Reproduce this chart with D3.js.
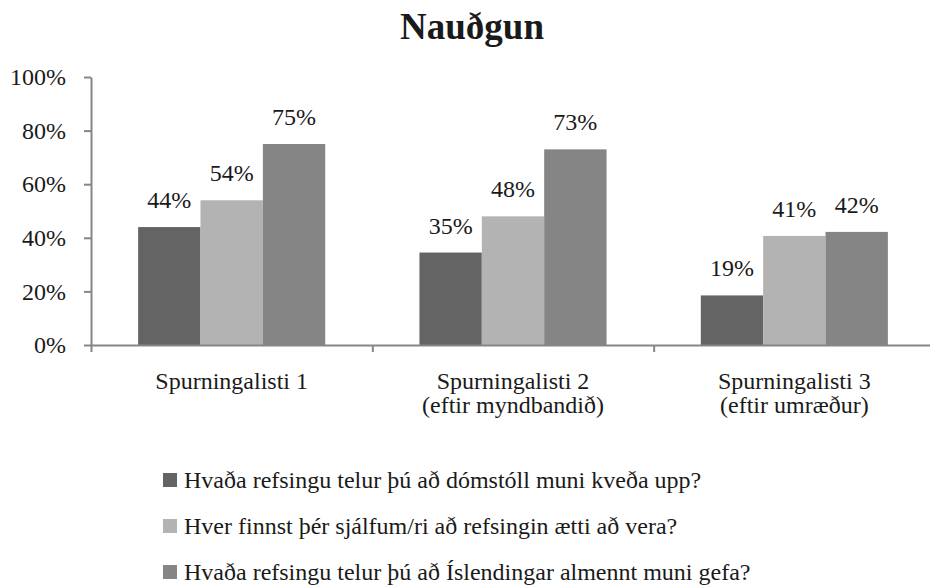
<!DOCTYPE html>
<html>
<head>
<meta charset="utf-8">
<script src="https://cdn.jsdelivr.net/npm/d3@7"></script>
<style>
  body { margin: 0; background: #fff; }
  svg text { font-family: "Liberation Serif", "Times New Roman", serif; fill: #1a1a1a; }
</style>
</head>
<body>
<svg id="chart" width="930" height="588"></svg>
<script>
// data
const title = 'Nauðgun';
const categories = [
  ['Spurningalisti 1'],
  ['Spurningalisti 2', '(eftir myndbandið)'],
  ['Spurningalisti 3', '(eftir umræður)']
];
const seriesNames = [
  'Hvaða refsingu telur þú að dómstóll muni kveða upp?',
  'Hver finnst þér sjálfum/ri að refsingin ætti að vera?',
  'Hvaða refsingu telur þú að Íslendingar almennt muni gefa?'
];
const domstoll = [44, 34.5, 18.5];
const sjalfur = [54, 48, 40.7];
const almennt = [75, 73, 42.2];
const yTicks = [0, 20, 40, 60, 80, 100];
const colors = ['#646464', '#b3b3b3', '#858585'];

const series = [domstoll, sjalfur, almennt];
const serif = '"Liberation Serif", "Times New Roman", serif';

const svg = d3.select('#chart');
const plot = { left: 91, right: 935, top: 77, bottom: 345 };

const x0 = d3.scaleBand()
  .domain(d3.range(categories.length))
  .range([plot.left, plot.right])
  .paddingInner(0.335)
  .paddingOuter(0.1675);
const x1 = d3.scaleBand()
  .domain(d3.range(series.length))
  .range([0, x0.bandwidth()]);
const xEdges = d3.scaleLinear().domain([0, categories.length]).range([plot.left, plot.right]);
const y = d3.scaleLinear().domain([0, 100]).range([plot.bottom, plot.top]);

// title
svg.append('text')
  .attr('x', 472)
  .attr('y', 39)
  .attr('text-anchor', 'middle')
  .style('font-family', serif)
  .style('font-size', '37px')
  .style('font-weight', 'bold')
  .text(title);

// bars
const groups = svg.append('g').selectAll('g')
  .data(categories)
  .join('g')
    .attr('transform', (d, i) => `translate(${x0(i)},0)`);

groups.selectAll('rect')
  .data((d, i) => series.map((s, j) => ({ j, v: s[i] })))
  .join('rect')
    .attr('x', d => x1(d.j))
    .attr('y', d => y(d.v))
    .attr('width', x1.bandwidth())
    .attr('height', d => plot.bottom - y(d.v))
    .attr('fill', d => colors[d.j]);

groups.selectAll('text.lbl')
  .data((d, i) => series.map((s, j) => ({ j, v: s[i] })))
  .join('text')
    .attr('class', 'lbl')
    .attr('x', d => x1(d.j) + x1.bandwidth() / 2)
    .attr('y', d => y(d.v) - 19)
    .attr('text-anchor', 'middle')
    .style('font-family', serif)
    .style('font-size', '24px')
    .text(d => Math.round(d.v) + '%');

// y axis
const yAxis = svg.append('g')
  .attr('transform', `translate(${plot.left},0)`)
  .call(d3.axisLeft(y).tickValues(yTicks).tickSize(7).tickSizeOuter(0).tickPadding(18)
    .tickFormat(d => d + '%'));
yAxis.attr('font-family', null).attr('font-size', null);
yAxis.selectAll('line, path').attr('stroke', '#868686').attr('stroke-width', 2);
yAxis.selectAll('text').style('font-family', serif).style('font-size', '24px').attr('fill', '#1a1a1a');

// x axis
const xAxis = svg.append('g')
  .attr('transform', `translate(0,${plot.bottom})`)
  .call(d3.axisBottom(xEdges).tickValues(d3.range(categories.length + 1)).tickSize(7).tickSizeOuter(0)
    .tickFormat(''));
xAxis.attr('font-family', null);
xAxis.selectAll('line, path').attr('stroke', '#868686').attr('stroke-width', 2);

// category labels
svg.append('g').selectAll('text')
  .data(categories)
  .join('text')
    .attr('x', (d, i) => x0(i) + x0.bandwidth() / 2)
    .attr('y', 389)
    .attr('text-anchor', 'middle')
    .style('font-family', serif)
    .style('font-size', '24px')
    .selectAll('tspan')
    .data(d => d)
    .join('tspan')
      .attr('x', function() { return this.parentNode.getAttribute('x'); })
      .attr('dy', (d, k) => k === 0 ? 0 : 24)
      .text(d => d);

// legend
const legend = svg.append('g').selectAll('g')
  .data(seriesNames)
  .join('g')
    .attr('transform', (d, i) => `translate(163,${473 + i * 46})`);
legend.append('rect')
  .attr('width', 14)
  .attr('height', 14)
  .attr('fill', (d, i) => colors[i]);
legend.append('text')
  .attr('x', 21)
  .attr('y', 15)
  .style('font-family', serif)
  .style('font-size', '24px')
  .text(d => d);
</script>
</body>
</html>
